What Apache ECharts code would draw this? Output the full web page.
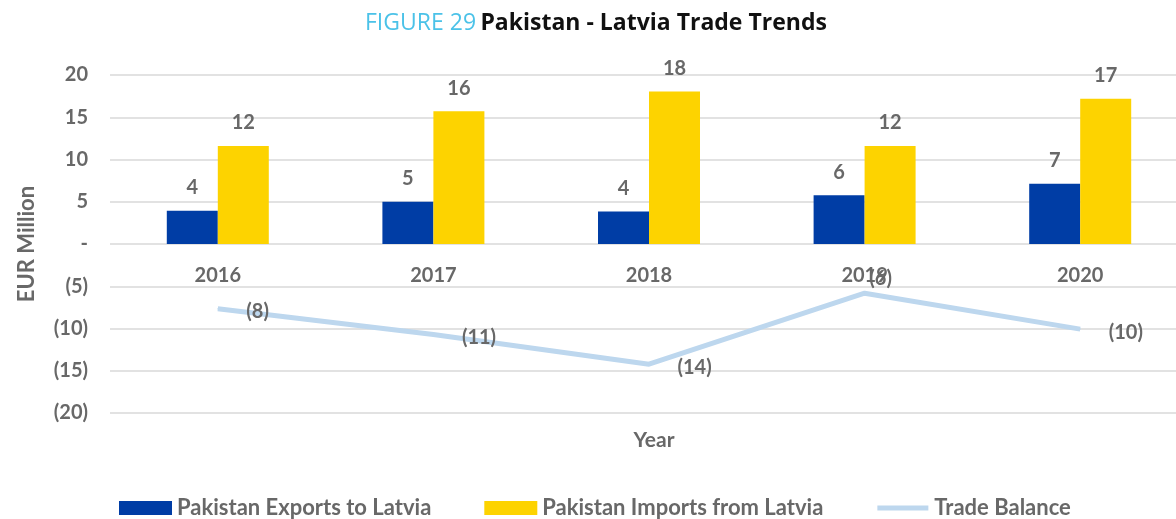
<!DOCTYPE html>
<html>
<head>
<meta charset="utf-8">
<title>Pakistan - Latvia Trade Trends</title>
<script src="https://cdn.jsdelivr.net/npm/echarts@6/dist/echarts.min.js"></script>
<style>
  html, body { margin: 0; padding: 0; background: #fff; }
  #main { width: 1176px; height: 519px; }
</style>
</head>
<body>
<div id="main"></div>
<script>
// 数据（EUR Million）
var years = ['2016', '2017', '2018', '2019', '2020']
var exportsToLatvia = [3.93, 5.0, 3.84, 5.78, 7.13]
var importsFromLatvia = [11.6, 15.7, 18.06, 11.6, 17.2]
var tradeBalance = [-7.67, -10.7, -14.22, -5.82, -10.07]
var yMin = -20
var yMax = 20
var yStep = 5

var gray = '#686868'
var font = 'Lato'

// 负数用括号，0 显示为 -
function fmtNum(v) {
  var n = Math.round(v)
  if (n === 0) return '-'
  return n < 0 ? '(' + (-n) + ')' : String(n)
}

var myChart = echarts.init(document.getElementById('main'))

var valueLabel = {
  show: true,
  color: gray,
  fontSize: 20,
  fontWeight: 'bold',
  fontFamily: font,
  formatter: function (p) { return fmtNum(p.value) }
}

var option = {
  backgroundColor: '#fff',
  textStyle: { fontFamily: font },
  title: [
    {
      text: '{a|FIGURE 29} {b|Pakistan - Latvia Trade Trends}',
      left: 360,
      top: 7,
      textStyle: {
        rich: {
          a: { color: '#4BC2E8', fontSize: 23, fontWeight: 500, fontFamily: 'Open Sans' },
          b: { color: '#111', fontSize: 23, fontWeight: 'bold', fontFamily: 'Open Sans' }
        }
      }
    },
    {
      text: 'Year',
      left: 649,
      top: 425,
      textAlign: 'center',
      textStyle: { color: gray, fontSize: 21, fontWeight: 'bold', fontFamily: font }
    }
  ],
  legend: {
    left: 119,
    top: 497,
    padding: 0,
    itemWidth: 53,
    itemHeight: 14,
    itemGap: 53,
    textStyle: { color: gray, fontSize: 22, fontWeight: 'bold', fontFamily: font },
    data: [
      { name: 'Pakistan Exports to Latvia', icon: 'rect' },
      { name: 'Pakistan Imports from Latvia', icon: 'rect' },
      // 细线图例：用空的 moveTo 撑开外框
      { name: 'Trade Balance', icon: 'path://M0,0 M53,14 M1,4.5 L52,4.5 L52,9.5 L1,9.5 Z' }
    ]
  },
  grid: { left: 110, top: 75, width: 1078, height: 338, outerBoundsMode: 'none' },
  xAxis: {
    type: 'category',
    data: years,
    offset: -169, // 类目标签放在 0 线下方
    axisLine: { show: false },
    axisTick: { show: false },
    axisLabel: { margin: 22, color: gray, fontSize: 20, fontWeight: 'bold', fontFamily: font }
  },
  yAxis: {
    type: 'value',
    min: yMin,
    max: yMax,
    interval: yStep,
    name: 'EUR Million',
    nameLocation: 'middle',
    nameGap: 72,
    nameTextStyle: { color: gray, fontSize: 22, fontWeight: 'bold', fontFamily: font },
    axisLine: { show: false },
    axisTick: { show: false },
    splitLine: { lineStyle: { color: '#d9d9d9', width: 1.5 } },
    axisLabel: {
      margin: 22,
      color: gray,
      fontSize: 20,
      fontWeight: 'bold',
      fontFamily: font,
      formatter: fmtNum
    }
  },
  series: [
    {
      name: 'Pakistan Exports to Latvia',
      type: 'bar',
      data: exportsToLatvia,
      barWidth: 51,
      barGap: '0%',
      itemStyle: { color: '#003DA5' },
      label: Object.assign({ position: 'top', distance: 13 }, valueLabel)
    },
    {
      name: 'Pakistan Imports from Latvia',
      type: 'bar',
      data: importsFromLatvia,
      barWidth: 51,
      barGap: '0%',
      itemStyle: { color: '#FDD300' },
      label: Object.assign({ position: 'top', distance: 13 }, valueLabel)
    },
    {
      name: 'Trade Balance',
      type: 'line',
      // 2019 的标签在原图里放在点的上方
      data: tradeBalance.map(function (v, i) {
        if (i === 3) {
          return { value: v, label: { position: 'top', distance: 4, offset: [16, 0] } }
        }
        return v
      }),
      symbol: 'circle',
      symbolSize: 1,
      showSymbol: true,
      lineStyle: { color: '#BDD7EE', width: 5 },
      itemStyle: { color: '#BDD7EE' },
      label: Object.assign({ position: 'right', distance: 28, offset: [0, 3] }, valueLabel)
    }
  ]
}

myChart.setOption(option)
window.addEventListener('resize', () => {
  myChart.resize()
})
</script>
</body>
</html>
